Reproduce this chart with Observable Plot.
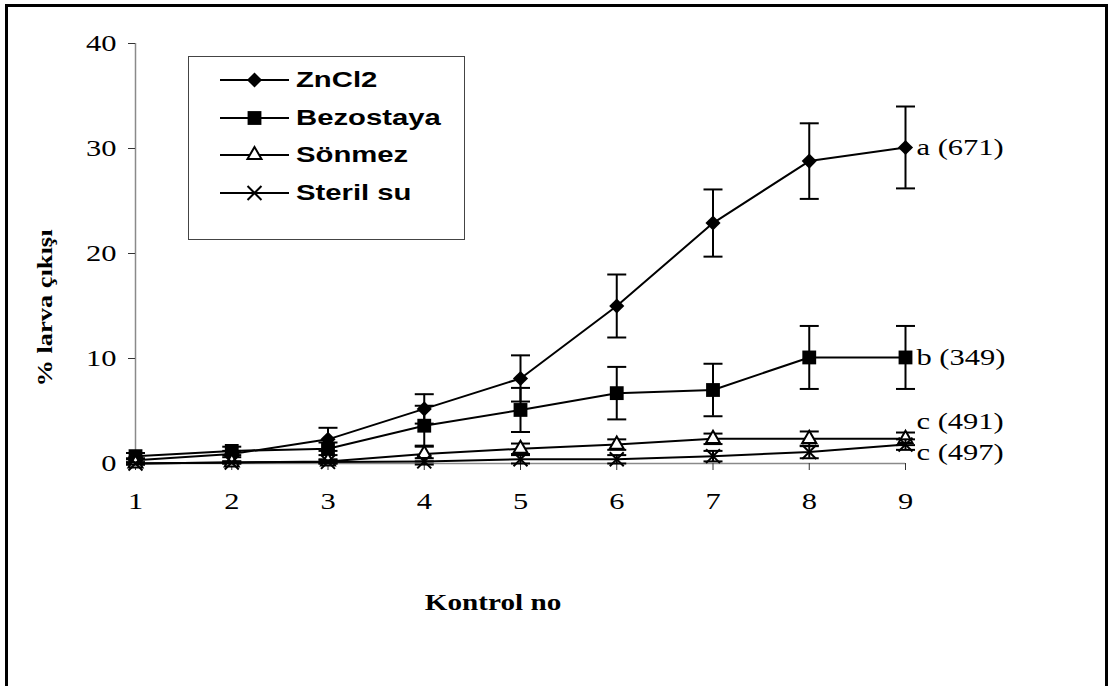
<!DOCTYPE html>
<html>
<head>
<meta charset="utf-8">
<script src="https://cdn.jsdelivr.net/npm/d3@7"></script>
<script src="https://cdn.jsdelivr.net/npm/@observablehq/plot@0.6"></script>
<style>
  body { margin: 0; background: #fff; }
  #wrap { position: relative; width: 1118px; height: 686px; overflow: hidden; background: #fff; }
  #frame { position: absolute; left: 5px; top: 4px; width: 1103px; height: 730px; border: 3px solid #000; box-sizing: border-box; }
  #chart { position: absolute; left: 0; top: 0; }
  .title { position: absolute; font-family: "Liberation Serif", serif; font-weight: bold; white-space: nowrap; color: #000; }
  #ytitle { left: 45px; top: 308px; font-size: 22px; transform: translate(-50%, -50%) rotate(-90deg) scaleX(1.2); }
  #xtitle { left: 493px; top: 603px; font-size: 23px; transform: translate(-50%, -50%) scaleX(1.27); }
  #legend { position: absolute; left: 188px; top: 56px; width: 277px; height: 184px; border: 1.5px solid #444; box-sizing: border-box; background: #fff; }
  .row { position: absolute; left: 0; height: 30px; width: 100%; }
  .row svg { position: absolute; left: 29px; top: 0; }
  .row span { position: absolute; left: 107px; top: 50%; transform: translateY(-50%) scaleX(1.33); transform-origin: left center;
              font-family: "Liberation Sans", Arial, sans-serif; font-weight: bold; font-size: 22px; white-space: nowrap; }
</style>
</head>
<body>
<div id="wrap">
  <div id="frame"></div>
  <div id="chart"></div>
  <div id="ytitle" class="title">% larva çıkışı</div>
  <div id="xtitle" class="title">Kontrol no</div>
  <div id="legend"></div>
</div>
<script>
// Larval emergence (%) per check, mean ± error for each treatment
const kontrol = [1, 2, 3, 4, 5, 6, 7, 8, 9];
const seriesNames = ["ZnCl2", "Bezostaya", "Sönmez", "Steril su"];

const znCl2       = [0.3, 0.9, 2.3, 5.2, 8.1, 15.0, 22.9, 28.8, 30.1];
const znCl2Err    = [0.2, 0.3, 1.1, 1.4, 2.2, 3.0, 3.2, 3.6, 3.9];
const bezostaya   = [0.7, 1.2, 1.4, 3.6, 5.1, 6.7, 7.0, 10.1, 10.1];
const bezostayaErr= [0.3, 0.4, 0.6, 1.9, 2.1, 2.5, 2.5, 3.0, 3.0];
const sonmez      = [0.0, 0.1, 0.2, 0.9, 1.4, 1.8, 2.35, 2.35, 2.35];
const sonmezErr   = [0.1, 0.1, 0.2, 0.7, 0.5, 0.5, 0.5, 0.7, 0.6];
const sterilSu    = [0.0, 0.1, 0.15, 0.2, 0.4, 0.4, 0.7, 1.1, 1.8];
const sterilSuErr = [0.1, 0.1, 0.15, 0.3, 0.4, 0.4, 0.5, 0.6, 0.5];

const endLabels = ["a (671)", "b (349)", "c (491)", "c (497)"];
const yTicks = [0, 10, 20, 30, 40];

// marker styling per treatment
const markers = [
  {symbol: "diamond2", r: 6.8, fill: "black"},
  {symbol: "square",   r: 7.8, fill: "black"},
  {symbol: "triangle2", r: 6.7, fill: "white"},
  {symbol: "times",    r: 6.4, fill: "none"}
];
const labelShift = [0, 0, -18, 8];

const values = [znCl2, bezostaya, sonmez, sterilSu];
const errors = [znCl2Err, bezostayaErr, sonmezErr, sterilSuErr];

const rows = [];
seriesNames.forEach((s, i) => {
  kontrol.forEach((k, j) => rows.push({series: s, idx: i, kontrol: k, value: values[i][j], err: errors[i][j]}));
});

// horizontal whisker cap drawn as a symbol
const cap = {draw(ctx) { ctx.moveTo(-9.5, 0); ctx.lineTo(9.5, 0); }};

const marks = [
  Plot.ruleX([kontrol[0]], {y1: yTicks[0], y2: yTicks[yTicks.length - 1], stroke: "#8a8a8a", strokeWidth: 1.5}),
  Plot.ruleY([0], {x1: kontrol[0], x2: kontrol[kontrol.length - 1], stroke: "#8a8a8a", strokeWidth: 1.5}),
  Plot.axisY({ticks: yTicks, tickSize: 7, tickPadding: 12, label: null, stroke: "#333", fontSize: 24}),
  Plot.axisX({ticks: kontrol, tickSize: 7, tickPadding: 21, label: null, stroke: "#333", fontSize: 24, tickFormat: d => String(d)})
];

seriesNames.forEach((s, i) => {
  const data = rows.filter(d => d.idx === i);
  const m = markers[i];
  marks.push(
    Plot.ruleX(data, {x: "kontrol", y1: d => d.value - d.err, y2: d => d.value + d.err, stroke: "black", strokeWidth: 2}),
    Plot.dot(data, {x: "kontrol", y: d => d.value + d.err, symbol: cap, stroke: "black", strokeWidth: 2, fill: "none"}),
    Plot.dot(data, {x: "kontrol", y: d => d.value - d.err, symbol: cap, stroke: "black", strokeWidth: 2, fill: "none"}),
    Plot.line(data, {x: "kontrol", y: "value", stroke: "black", strokeWidth: 2}),
    Plot.dot(data, {x: "kontrol", y: "value", symbol: () => m.symbol, r: m.r, fill: m.fill,
                    stroke: m.fill === "black" ? "none" : "black", strokeWidth: 2}),
    Plot.text([data[data.length - 1]], {x: "kontrol", y: "value", text: () => endLabels[i], dx: 11, dy: labelShift[i],
                    textAnchor: "start", fontSize: 24, fill: "black"})
  );
});

const chart = Plot.plot({
  width: 1118,
  height: 686,
  marginLeft: 135,
  marginRight: 213,
  marginTop: 43,
  marginBottom: 223,
  style: {fontFamily: "'Liberation Serif', 'Times New Roman', serif", fontSize: "24px", color: "black", background: "transparent", overflow: "visible"},
  x: {domain: [kontrol[0], kontrol[kontrol.length - 1]]},
  y: {domain: [yTicks[0], yTicks[yTicks.length - 1]]},
  symbol: {type: "identity"},
  marks
});
document.getElementById("chart").appendChild(chart);

// widen the serif glyphs horizontally, as in the printed figure
chart.querySelectorAll("text").forEach(t => {
  const w = t.getComputedTextLength();
  if (w > 0) {
    t.setAttribute("textLength", (w * 1.27).toFixed(1));
    t.setAttribute("lengthAdjust", "spacingAndGlyphs");
  }
});

// legend: line swatch with marker, then the series name
const legend = document.getElementById("legend");
const rowCenters = [23, 61, 98, 136];
seriesNames.forEach((s, i) => {
  const row = document.createElement("div");
  row.className = "row";
  row.style.top = (rowCenters[i] - 15) + "px";
  const svg = d3.create("svg").attr("width", 74).attr("height", 30);
  svg.append("line").attr("x1", 2).attr("x2", 71).attr("y1", 15).attr("y2", 15)
    .attr("stroke", "black").attr("stroke-width", 2);
  const m = markers[i];
  const sym = {diamond2: d3.symbolDiamond2, square: d3.symbolSquare, triangle2: d3.symbolTriangle2, times: d3.symbolTimes}[m.symbol];
  svg.append("path").attr("transform", "translate(36.5,15)")
    .attr("d", d3.symbol(sym, Math.PI * m.r * m.r)())
    .attr("fill", m.fill)
    .attr("stroke", m.fill === "black" ? "none" : "black")
    .attr("stroke-width", 2);
  row.appendChild(svg.node());
  const label = document.createElement("span");
  label.textContent = s;
  row.appendChild(label);
  legend.appendChild(row);
});
</script>
</body>
</html>
